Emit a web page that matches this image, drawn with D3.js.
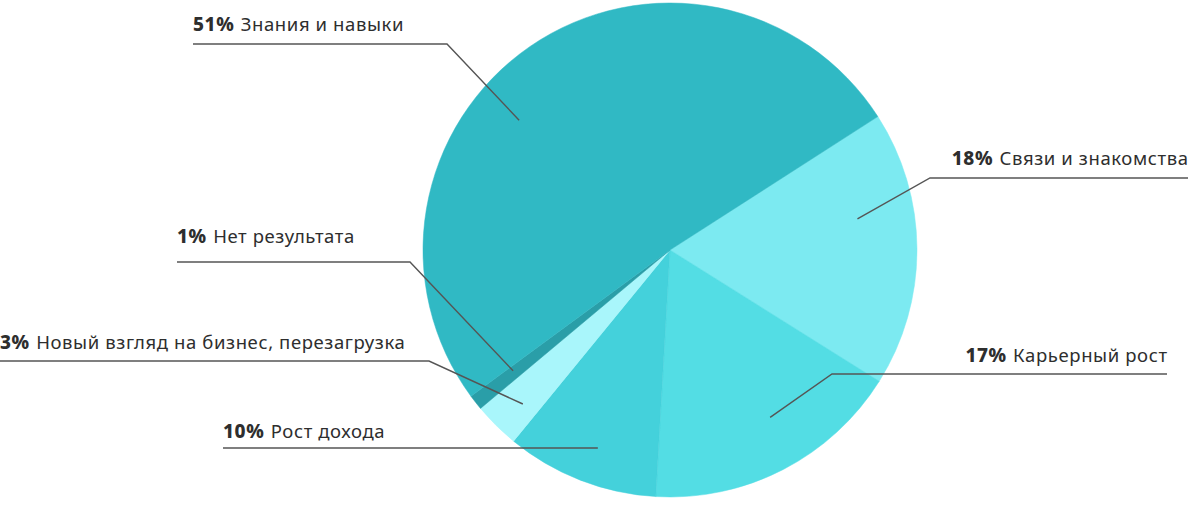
<!DOCTYPE html>
<html>
<head>
<meta charset="utf-8">
<script src="https://cdn.jsdelivr.net/npm/d3@7"></script>
<style>
  body { margin: 0; background: #fff; }
  text { font-family: "Noto Sans", "Open Sans", sans-serif; fill: #2e2e2e; }
</style>
</head>
<body>
<script>
//data of the chart
var labels = ["Связи и знакомства", "Карьерный рост", "Рост дохода",
              "Новый взгляд на бизнес, перезагрузка", "Нет результата", "Знания и навыки"];
var values = [18, 17, 10, 3, 1, 51];
var colors = ["#7ceaf1", "#53dde4", "#44d1db", "#a9f6fb", "#2a9ea8", "#30b9c4"];

//properties of the screen
var widthScr = 1200;
var heightScr = 521;
var cx = 670;
var cy = 250;
var radius = 247;
var startDeg = 57.3;

//label layout: text side, baseline, horizontal line, elbow, tip inside the slice (polar)
var layout = [
  {side: "right", x: 1188, ty: 165, ly: 178, elbow: 930, tipDeg: 80.6, tipR: 190},
  {side: "right", x: 1167, ty: 362, ly: 374, elbow: 832, tipDeg: 149.1, tipR: 195},
  {side: "left",  x: 223,  ty: 438, ly: 448, elbow: null, tipDeg: 200, tipR: 211},
  {side: "left",  x: 0,    ty: 349, ly: 361, elbow: 429, tipDeg: 223.7, tipR: 213},
  {side: "left",  x: 177,  ty: 243, ly: 262, elbow: 410, tipDeg: 232.4, tipR: 198},
  {side: "left",  x: 193,  ty: 31,  ly: 44,  elbow: 447, tipDeg: 310.7, tipR: 199}
];

var svg = d3.select("body").append("svg")
    .attr("width", widthScr)
    .attr("height", heightScr);

var start = startDeg * Math.PI / 180;
var pie = d3.pie().sort(null).startAngle(start).endAngle(start + 2 * Math.PI);
var arc = d3.arc().innerRadius(0).outerRadius(radius);

var g = svg.append("g").attr("transform", "translate(" + cx + "," + cy + ")");

g.selectAll("path")
    .data(pie(values))
    .enter().append("path")
    .attr("d", arc)
    .attr("fill", function(d, i) { return colors[i]; })
    .attr("stroke", function(d, i) { return colors[i]; })
    .attr("stroke-width", 0.5);

//leader lines and labels
layout.forEach(function(l, i) {
    var tip = d3.pointRadial(l.tipDeg * Math.PI / 180, l.tipR);
    var tx = cx + tip[0], ty = cy + tip[1];
    var pts;
    if (l.elbow === null) {
        pts = [[l.x, l.ly], [tx, l.ly]];
    } else {
        pts = [[l.x, l.ly], [l.elbow, l.ly], [tx, ty]];
    }
    svg.append("path")
        .attr("d", d3.line()(pts))
        .attr("fill", "none")
        .attr("stroke", "#555")
        .attr("stroke-width", 1.4);

    var t = svg.append("text")
        .attr("x", l.side === "right" ? l.x + 0.6 : l.x)
        .attr("y", l.ty)
        .attr("font-size", 18.5)
        .attr("letter-spacing", 0.6)
        .attr("text-anchor", l.side === "right" ? "end" : "start");
    t.append("tspan").attr("font-weight", 800).attr("font-size", 19).text(values[i] + "%");
    t.append("tspan").attr("dx", 1).text("\u00a0" + labels[i]);
});
</script>
</body>
</html>
